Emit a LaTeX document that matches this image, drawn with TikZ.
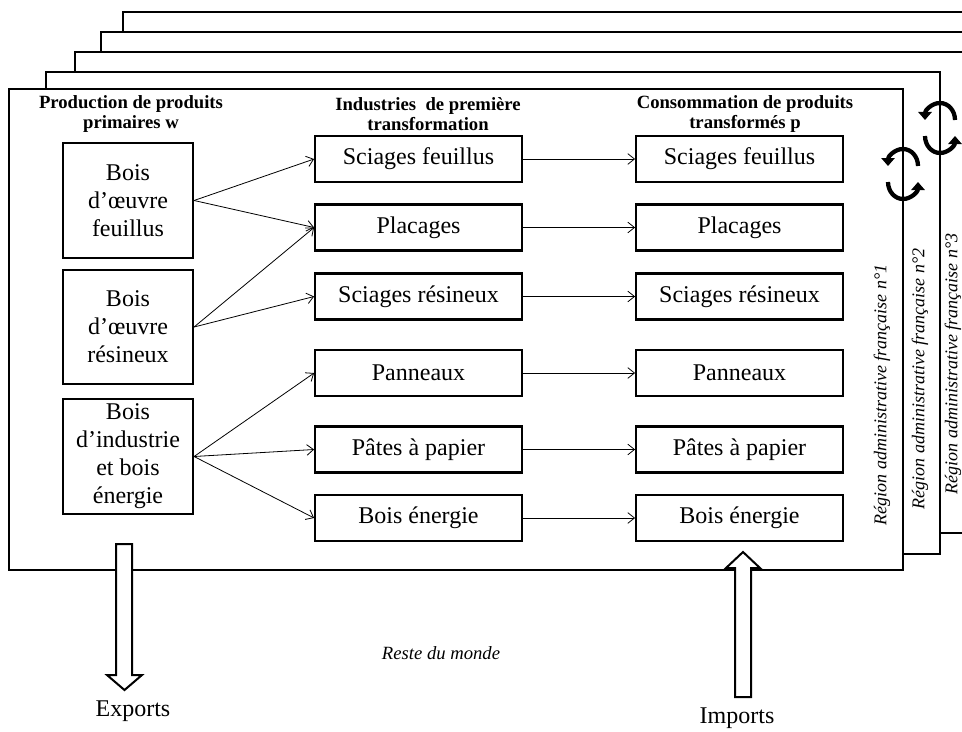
\documentclass[tikz,border=0pt]{standalone}
\usepackage{fontspec}
\setmainfont{Liberation Serif}
\usetikzlibrary{arrows.meta}

\begin{document}
\begin{tikzpicture}[x=0.75pt, y=-0.75pt,
    boite/.style={draw, line width=1.6pt, fill=white, inner sep=0pt, align=center, font=\fontsize{18}{21}\selectfont},
    prim/.style={boite, minimum width=97.5pt, minimum height=86pt},
    prod/.style={boite, minimum width=155pt, minimum height=34.5pt},
    titre/.style={align=center, font=\bfseries\fontsize{14}{15.5}\selectfont},
    region/.style={rotate=90, font=\itshape\fontsize{13.5}{15}\selectfont},
    cadre/.style={draw, line width=1.8pt, fill=white},
    fleche/.style={-{Straight Barb[length=5pt,width=8pt]}, line width=0.6pt},
    rond/.style={-{Triangle[length=6pt,width=10pt]}, line width=3.2pt},
    gros/.style={draw, line width=1.5pt, fill=white}]

      \clip (0,0) rectangle (962,731);

      \draw[cadre] (123,12) rectangle (1000,480);
      \draw[cadre] (101,32) rectangle (1000,500);
      \draw[cadre] (75,52) rectangle (1000,533);
      \draw[cadre] (46,72) rectangle (940,554);
      \draw[cadre] (9,89) rectangle (903,570);

      \node[titre] (T1) at (131, 114) {Production de produits\\primaires w};
      \node[titre] (T2) at (428, 114) {Industries~ de première\\transformation};
      \node[titre] (T3) at (745, 114) {Consommation de produits\\transformés p};

      \node[prim] (P1) at (128, 200.5) {Bois\\d’œuvre\\feuillus};
      \node[prim] (P2) at (128, 327) {Bois\\d’œuvre\\résineux};
      \node[prim] (P3) at (128, 456.5) {Bois\\d’industrie\\et bois\\énergie};

      \node[prod] (I1) at (418.5, 159) {Sciages feuillus};
      \node[prod] (I2) at (418.5, 227.5) {Placages};
      \node[prod] (I3) at (418.5, 296.5) {Sciages résineux};
      \node[prod] (I4) at (418.5, 373) {Panneaux};
      \node[prod] (I5) at (418.5, 449.5) {Pâtes à papier};
      \node[prod] (I6) at (418.5, 518) {Bois énergie};

      \node[prod] (C1) at (739.5, 159) {Sciages feuillus};
        \draw[fleche] (I1) -- (C1);
      \node[prod] (C2) at (739.5, 227.5) {Placages};
        \draw[fleche] (I2) -- (C2);
      \node[prod] (C3) at (739.5, 296.5) {Sciages résineux};
        \draw[fleche] (I3) -- (C3);
      \node[prod] (C4) at (739.5, 373) {Panneaux};
        \draw[fleche] (I4) -- (C4);
      \node[prod] (C5) at (739.5, 449.5) {Pâtes à papier};
        \draw[fleche] (I5) -- (C5);
      \node[prod] (C6) at (739.5, 518) {Bois énergie};
        \draw[fleche] (I6) -- (C6);

        \draw[fleche] (P1.east) -- (I1.west);
        \draw[fleche] (P1.east) -- (I2.west);
        \draw[fleche] (P2.east) -- (I2.west);
        \draw[fleche] (P2.east) -- (I3.west);
        \draw[fleche] (P3.east) -- (I4.west);
        \draw[fleche] (P3.east) -- (I5.west);
        \draw[fleche] (P3.east) -- (I6.west);

      \node[region] (R1) at (882, 395) {Région administrative française n°1};
      \node[region] (R2) at (920, 379) {Région administrative française n°2};
      \node[region] (R3) at (953, 364) {Région administrative française n°3};

      \draw[rond] (918,166) arc[start angle=0, end angle=-180, x radius=15, y radius=17];
      \draw[rond] (888,182) arc[start angle=180, end angle=0, x radius=15, y radius=17];
      \draw[rond] (955,120) arc[start angle=0, end angle=-180, x radius=15, y radius=17];
      \draw[rond] (925,136) arc[start angle=180, end angle=0, x radius=15, y radius=17];

      \draw[gros] (116,544) -- (116,675) -- (107,675) -- (124.5,690) -- (142,675) -- (132,675) -- (132,544) -- cycle;
      \draw[gros] (735,697) -- (735,568) -- (726,568) -- (743,552) -- (760,568) -- (751,568) -- (751,697) -- cycle;

      \node[font=\itshape\fontsize{14}{16}\selectfont] (M) at (441, 653) {Reste du monde};
      \node[font=\fontsize{18}{21}\selectfont] (E) at (133, 711) {Exports};
      \node[font=\fontsize{18}{21}\selectfont] (I) at (737, 718) {Imports};

    \end{tikzpicture}
\end{document}
